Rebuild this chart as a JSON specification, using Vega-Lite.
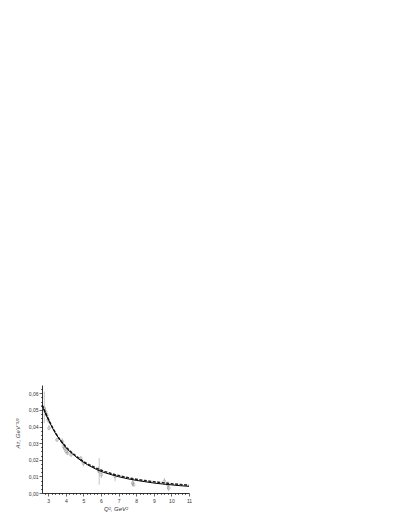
{
  "$schema": "https://vega.github.io/schema/vega-lite/v6.json",
  "width": 147,
  "height": 108,
  "autosize": "none",
  "padding": {"left": 42, "top": 385, "right": 218, "bottom": 34},
  "background": "white",
  "datasets": {
    "pts": [
      {"q2": 2.78, "a": 0.051, "lo": 0.042, "hi": 0.061},
      {"q2": 2.85, "a": 0.049, "lo": 0.047, "hi": 0.051},
      {"q2": 2.92, "a": 0.047, "lo": 0.045, "hi": 0.049},
      {"q2": 3.0, "a": 0.044, "lo": 0.042, "hi": 0.046},
      {"q2": 3.05, "a": 0.039, "lo": 0.038, "hi": 0.041},
      {"q2": 3.5, "a": 0.032, "lo": 0.031, "hi": 0.033},
      {"q2": 3.8, "a": 0.031, "lo": 0.029, "hi": 0.033},
      {"q2": 3.88, "a": 0.028, "lo": 0.026, "hi": 0.03},
      {"q2": 3.95, "a": 0.027, "lo": 0.025, "hi": 0.029},
      {"q2": 4.02, "a": 0.025, "lo": 0.024, "hi": 0.027},
      {"q2": 4.1, "a": 0.024, "lo": 0.023, "hi": 0.026},
      {"q2": 4.3, "a": 0.023, "lo": 0.022, "hi": 0.024},
      {"q2": 4.85, "a": 0.021, "lo": 0.019, "hi": 0.022},
      {"q2": 5.0, "a": 0.018, "lo": 0.016, "hi": 0.019},
      {"q2": 5.85, "a": 0.014, "lo": 0.012, "hi": 0.016},
      {"q2": 5.9, "a": 0.013, "lo": 0.005, "hi": 0.021},
      {"q2": 6.02, "a": 0.011, "lo": 0.009, "hi": 0.013},
      {"q2": 6.8, "a": 0.01, "lo": 0.007, "hi": 0.011},
      {"q2": 7.8, "a": 0.006, "lo": 0.004, "hi": 0.008},
      {"q2": 7.85, "a": 0.005, "lo": 0.004, "hi": 0.007},
      {"q2": 9.6, "a": 0.007, "lo": 0.006, "hi": 0.009},
      {"q2": 9.8, "a": 0.005, "lo": 0.002, "hi": 0.007},
      {"q2": 9.85, "a": 0.003, "lo": 0.001, "hi": 0.005}
    ],
    "fit": [
      {"q2": 2.66, "a": 0.053}, {"q2": 2.8, "a": 0.049}, {"q2": 3.0, "a": 0.0445},
      {"q2": 3.25, "a": 0.039}, {"q2": 3.5, "a": 0.0345}, {"q2": 3.75, "a": 0.031},
      {"q2": 4.0, "a": 0.0275}, {"q2": 4.5, "a": 0.0225}, {"q2": 5.0, "a": 0.0185},
      {"q2": 5.5, "a": 0.0155}, {"q2": 6.0, "a": 0.013}, {"q2": 6.5, "a": 0.0113},
      {"q2": 7.0, "a": 0.0098}, {"q2": 7.5, "a": 0.0086}, {"q2": 8.0, "a": 0.0076},
      {"q2": 8.5, "a": 0.0068}, {"q2": 9.0, "a": 0.006}, {"q2": 9.5, "a": 0.0054},
      {"q2": 10.0, "a": 0.0049}, {"q2": 10.5, "a": 0.0044}, {"q2": 11.0, "a": 0.004}
    ],
    "fit2": [
      {"q2": 2.66, "a": 0.053}, {"q2": 3.0, "a": 0.0447}, {"q2": 3.5, "a": 0.0348},
      {"q2": 4.0, "a": 0.0279}, {"q2": 4.5, "a": 0.023}, {"q2": 5.0, "a": 0.019},
      {"q2": 5.5, "a": 0.0161}, {"q2": 6.0, "a": 0.0138}, {"q2": 6.5, "a": 0.012},
      {"q2": 7.0, "a": 0.0105}, {"q2": 7.5, "a": 0.0093}, {"q2": 8.0, "a": 0.0083},
      {"q2": 8.5, "a": 0.0075}, {"q2": 9.0, "a": 0.0068}, {"q2": 9.5, "a": 0.0062},
      {"q2": 10.0, "a": 0.0056}, {"q2": 10.5, "a": 0.0051}, {"q2": 11.0, "a": 0.0047}
    ]
  },
  "resolve": {"axis": {"x": "independent", "y": "independent"}},
  "layer": [
    {
      "data": {"name": "pts"},
      "mark": {"type": "rule", "color": "#aaaaaa", "strokeWidth": 0.7},
      "encoding": {
        "x": {
          "field": "q2", "type": "quantitative",
          "scale": {"domain": [2.65, 11], "nice": false, "zero": false},
          "axis": {
            "orient": "bottom",
            "values": [3, 4, 5, 6, 7, 8, 9, 10, 11],
            "title": "Q², GeV²",
            "titlePadding": 2,
            "labelPadding": 2
          }
        },
        "y": {
          "field": "lo", "type": "quantitative",
          "scale": {"domain": [0, 0.065], "nice": false},
          "axis": {
            "orient": "left",
            "values": [0, 0.01, 0.02, 0.03, 0.04, 0.05, 0.06],
            "labelExpr": "replace(format(datum.value, '.2f'), '.', ',')",
            "title": "Aᴛ, GeV⁻¹/²",
            "titleX": -22,
            "titleY": 48,
            "labelPadding": 1
          }
        },
        "y2": {"field": "hi"}
      }
    },
    {
      "data": {"name": "pts"},
      "mark": {"type": "point", "shape": "circle", "filled": false, "stroke": "#888888", "strokeWidth": 0.7, "size": 8},
      "encoding": {
        "x": {
          "field": "q2", "type": "quantitative",
          "axis": {
            "orient": "bottom",
            "values": [2.8, 3.2, 3.4, 3.6, 3.8, 4.2, 4.4, 4.6, 4.8, 5.2, 5.4, 5.6, 5.8, 6.2, 6.4, 6.6, 6.8, 7.2, 7.4, 7.6, 7.8, 8.2, 8.4, 8.6, 8.8, 9.2, 9.4, 9.6, 9.8, 10.2, 10.4, 10.6, 10.8],
            "labels": false, "domain": false, "title": null, "tickSize": 1.5
          }
        },
        "y": {
          "field": "a", "type": "quantitative",
          "axis": {
            "orient": "left",
            "values": [0.0025, 0.005, 0.0075, 0.0125, 0.015, 0.0175, 0.0225, 0.025, 0.0275, 0.0325, 0.035, 0.0375, 0.0425, 0.045, 0.0475, 0.0525, 0.055, 0.0575, 0.0625],
            "labels": false, "domain": false, "title": null, "tickSize": 1.5
          }
        }
      }
    },
    {
      "data": {"name": "fit2"},
      "mark": {"type": "line", "color": "#222222", "strokeWidth": 1.5, "strokeDash": [3, 1.5], "interpolate": "monotone"},
      "encoding": {
        "x": {"field": "q2", "type": "quantitative", "axis": null},
        "y": {"field": "a", "type": "quantitative", "axis": null}
      }
    },
    {
      "data": {"name": "fit"},
      "mark": {"type": "line", "color": "black", "strokeWidth": 1, "interpolate": "monotone"},
      "encoding": {
        "x": {"field": "q2", "type": "quantitative", "axis": null},
        "y": {"field": "a", "type": "quantitative", "axis": null}
      }
    }
  ],
  "config": {
    "view": {"stroke": null},
    "font": "Liberation Sans",
    "axis": {
      "grid": false,
      "domainColor": "black",
      "domainWidth": 0.8,
      "tickColor": "black",
      "tickWidth": 0.6,
      "tickSize": 3,
      "labelFontSize": 5,
      "labelOverlap": false,
      "labelFlush": false,
      "labelColor": "#333333",
      "titleColor": "#333333",
      "titleFontSize": 6,
      "titleFontStyle": "italic",
      "titleFontWeight": "normal"
    }
  }
}
